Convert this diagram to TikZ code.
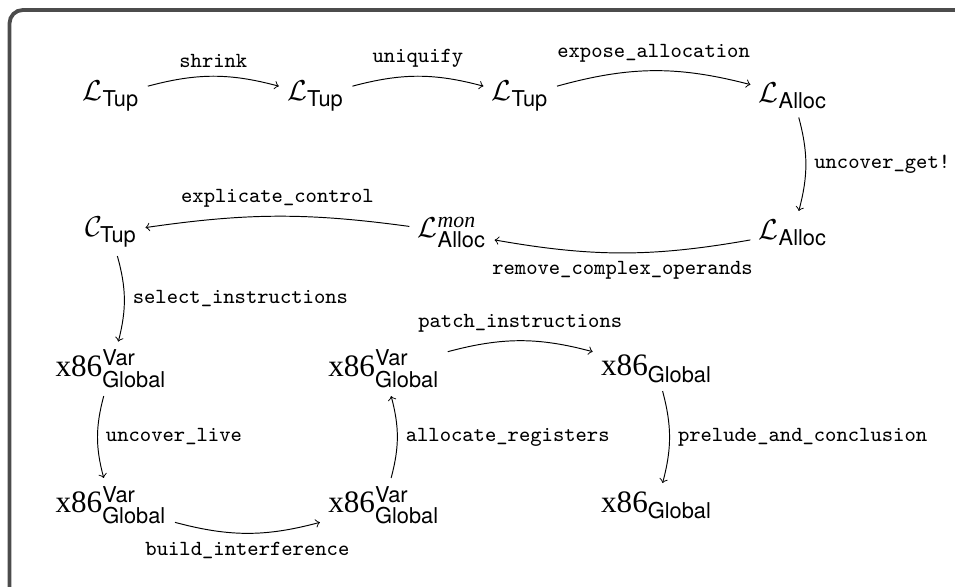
\documentclass[tikz,border=0pt]{standalone}
\usepackage{amsmath}
\usepackage{fontspec}
\setmainfont{Liberation Serif}
\setsansfont{TeX Gyre Heros}
\newcommand*{\stagefont}{\fontsize{13}{15.6}\selectfont}
\newcommand*{\passfont}{\ttfamily\fontsize{9}{10.8}\selectfont}
\definecolor{framegray}{gray}{0.30}
\usepackage{tikz}
\tikzstyle{stage}=[font=\stagefont]
\tikzstyle{passname}=[font=\passfont]
\tikzstyle{flow}=[->]

\begin{document}
\begin{tikzpicture}
    \useasboundingbox (-1.628,-5.199) rectangle (12.375,3.408);
    \draw [framegray, line width=1.6pt, rounded corners=5.5pt] (-1.488,-6) rectangle (13,3.261);

    \node [stage] (L1) at (0,2) {$\mathcal{L}_{\textsf{Tup}}$};
    \node [stage] (L2) at (3,2) {$\mathcal{L}_{\textsf{Tup}}$};
    \node [stage] (L3) at (6,2) {$\mathcal{L}_{\textsf{Tup}}$};
    \node [stage] (L4) at (10,2) {$\mathcal{L}_{\textsf{Alloc}}$};
    \node [stage] (L5) at (10,0) {$\mathcal{L}_{\textsf{Alloc}}$};
    \node [stage] (L6) at (5,0) {$\mathcal{L}^{\textit{mon}}_{\textsf{Alloc}}$};
    \node [stage] (C1) at (0,0) {$\mathcal{C}_{\textsf{Tup}}$};
    \node [stage] (X1) at (0,-2) {x86$^{\textsf{Var}}_{\textsf{Global}}$};
    \node [stage] (X2) at (0,-4) {x86$^{\textsf{Var}}_{\textsf{Global}}$};
    \node [stage] (X3) at (4,-4) {x86$^{\textsf{Var}}_{\textsf{Global}}$};
    \node [stage] (X4) at (4,-2) {x86$^{\textsf{Var}}_{\textsf{Global}}$};
    \node [stage] (X5) at (8,-2) {x86$_{\textsf{Global}}$};
    \node [stage] (X6) at (8,-4) {x86$_{\textsf{Global}}$};

    \draw [flow, bend left=15] (L1) to node [passname, above] {shrink} (L2);
    \draw [flow, bend left=15] (L2) to node [passname, above] {uniquify} (L3);
    \draw [flow, bend left=15] (L3) to node [passname, above] {expose\_allocation} (L4);
    \draw [flow, bend left=15] (L4) to node [passname, right] {uncover\_get!} (L5);
    \draw [flow, bend left=10] (L5) to node [passname, below] {remove\_complex\_operands} (L6);
    \draw [flow, bend right=8] (L6) to node [passname, above] {explicate\_control} (C1);
    \draw [flow, bend left=15] (C1) to node [passname, right] {select\_instructions} (X1);
    \draw [flow, bend right=15] (X1) to node [passname, right] {uncover\_live} (X2);
    \draw [flow, bend right=15] (X2) to node [passname, below] {build\_interference} (X3);
    \draw [flow, bend right=15] (X3) to node [passname, right] {allocate\_registers} (X4);
    \draw [flow, bend left=15] (X4) to node [passname, above] {patch\_instructions} (X5);
    \draw [flow, bend left=15] (X5) to node [passname, right] {prelude\_and\_conclusion} (X6);
\end{tikzpicture}
\end{document}
